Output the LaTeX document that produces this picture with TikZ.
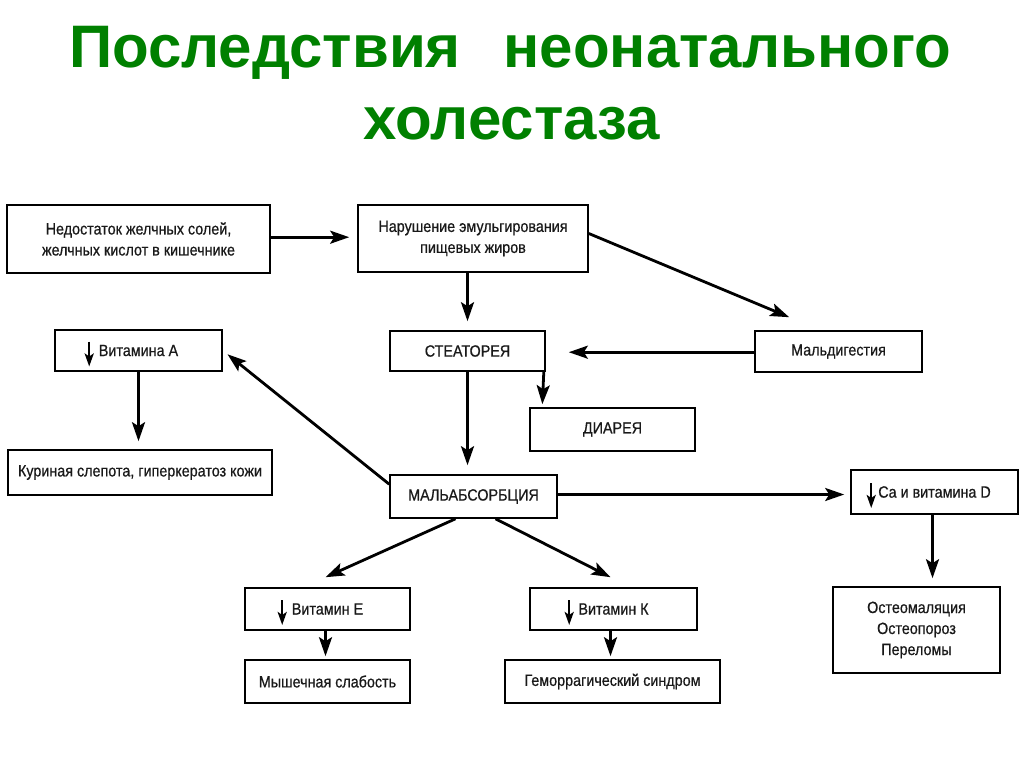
\documentclass[tikz,border=0pt]{standalone}
\usepackage{fontspec}
\setmainfont{Liberation Sans}
\newfontfamily\titlefont{Liberation Sans}
\newfontfamily\boxfont[FakeStretch=0.88,FakeBold=0.6]{Liberation Sans}
\usetikzlibrary{arrows.meta,calc}
\definecolor{titlegreen}{RGB}{0,128,0}
\definecolor{boxtext}{RGB}{25,25,25}
\begin{document}
\begin{tikzpicture}[x=1pt,y=-1pt,
  box/.style={draw=black,line width=1.6pt,fill=white,inner sep=2pt,
    font=\boxfont\fontsize{16.3}{21}\selectfont,text=boxtext,align=center},
  conn/.style={draw=black,line width=2.8pt,-{Stealth[length=19pt,width=13pt,inset=4pt]}},
  downarr/.style={draw=black,line width=2.4pt,-{Stealth[length=13pt,width=9pt,inset=3pt]}},
  ttl/.style={font=\titlefont\bfseries\fontsize{60}{70}\selectfont,text=titlegreen,anchor=base,inner sep=0pt}]
\useasboundingbox (0,0) rectangle (1024,768);
\fill[white] (0,0) rectangle (1024,768);
% title
\node[ttl] (t1) at (510,67) {Последствия\hspace{26pt} неонатального};
\node[ttl] (t2) at (512,139) {холестаза};
% boxes
\node[box,minimum width=263pt,minimum height=68pt] (n1) at (138.5,239) {Недостаток желчных солей,\\желчных кислот в кишечнике};
\node[box,minimum width=230pt,minimum height=67pt] (n2) at (473,238.5) {Нарушение эмульгирования\\пищевых жиров};
\node[box,minimum width=167pt,minimum height=41pt] (va) at (138.5,350.5) {Витамина А};
\node[box,minimum width=155pt,minimum height=40pt] (st) at (467.5,351) {СТЕАТОРЕЯ};
\node[box,minimum width=167pt,minimum height=41pt] (md) at (838.5,351.5) {Мальдигестия};
\node[box,minimum width=165pt,minimum height=43pt] (di) at (612.5,429.5) {ДИАРЕЯ};
\node[box,minimum width=264pt,minimum height=45pt] (ks) at (140,472.5) {Куриная слепота, гиперкератоз кожи};
\node[box,minimum width=167pt,minimum height=43pt] (mal) at (473.5,496.5) {МАЛЬАБСОРБЦИЯ};
\node[box,minimum width=167pt,minimum height=44pt] (ca) at (934.5,492) {Ca и витамина D};
\node[box,minimum width=165pt,minimum height=42pt] (ve) at (327.5,609) {Витамин Е};
\node[box,minimum width=167pt,minimum height=42pt] (vk) at (613.5,609) {Витамин К};
\node[box,minimum width=165pt,minimum height=43pt] (ms) at (327.5,681.5) {Мышечная слабость};
\node[box,minimum width=215pt,minimum height=43pt] (gs) at (612.5,681.5) {Геморрагический синдром};
\node[box,minimum width=167pt,minimum height=86pt] (os) at (916.5,630) {Остеомаляция\\Остеопороз\\Переломы};
% small "decrease" arrows inside the vitamin boxes
\draw[downarr] ($(va.west)+(35,-9)$) -- ++(0,25);
\draw[downarr] ($(ve.west)+(38,-9)$) -- ++(0,25);
\draw[downarr] ($(vk.west)+(40,-9)$) -- ++(0,25);
\draw[downarr] ($(ca.west)+(21,-9)$) -- ++(0,25);
% connector end points
\coordinate (a1) at (n1.east |- 0,237.2);
\coordinate (b1) at (n2.west |- 0,237.2);
\coordinate (a2) at (n2.south -| st.north);
\coordinate (mdin) at ($(md.north west)+(35,-13)$);
\coordinate (n2out) at ($(n2.east)+(0,-5)$);
\coordinate (mdW) at (md.west |- 0,352.2);
\coordinate (stE) at (st.east |- 0,352.2);
\coordinate (stdi) at ($(st.south east)+(-2,0)$);
\coordinate (diin) at ($(di.north west)+(13,0)$);
\coordinate (malin) at (st.south |- mal.north);
\coordinate (malnw) at ($(mal.north west)+(0,10)$);
\coordinate (ksin) at (va.south |- ks.north);
\coordinate (malE) at ($(mal.east)+(0,-2)$);
\coordinate (caW) at ($(ca.west)+(0,2.5)$);
\coordinate (malSl) at ($(mal.south)+(-18,0)$);
\coordinate (veIn) at ($(ve.north)+(-2,-10)$);
\coordinate (malSr) at ($(mal.south)+(22,0)$);
\coordinate (vkIn) at ($(vk.north)+(-3,-10)$);
\coordinate (veS) at ($(ve.south)+(-2,0)$);
\coordinate (msIn) at ($(ms.north)+(-2,0)$);
\coordinate (vkS) at ($(vk.south)+(-3,0)$);
\coordinate (gsIn) at (vkS |- gs.north);
\coordinate (caS) at ($(ca.south)+(-2,0)$);
\coordinate (osIn) at (caS |- os.north);
% connectors
\draw[conn,shorten >=8pt] (a1) -- (b1);
\draw[conn,shorten >=9pt] (a2) -- (st.north);
\draw[conn] (n2out) -- (mdin);
\draw[conn,shorten >=23pt] (mdW) -- (stE);
\draw[conn,shorten >=3pt] (stdi) -- (diin);
\draw[conn,shorten >=9pt] (st.south) -- (malin);
\draw[conn,shorten >=6pt] (malnw) -- (va.east);
\draw[conn,shorten >=8pt] (va.south) -- (ksin);
\draw[conn,shorten >=6pt] (malE) -- (caW);
\draw[conn] (malSl) -- (veIn);
\draw[conn] (malSr) -- (vkIn);
\draw[conn,shorten >=3pt] (veS) -- (msIn);
\draw[conn,shorten >=3pt] (vkS) -- (gsIn);
\draw[conn,shorten >=8pt] (caS) -- (osIn);
\end{tikzpicture}
\end{document}
